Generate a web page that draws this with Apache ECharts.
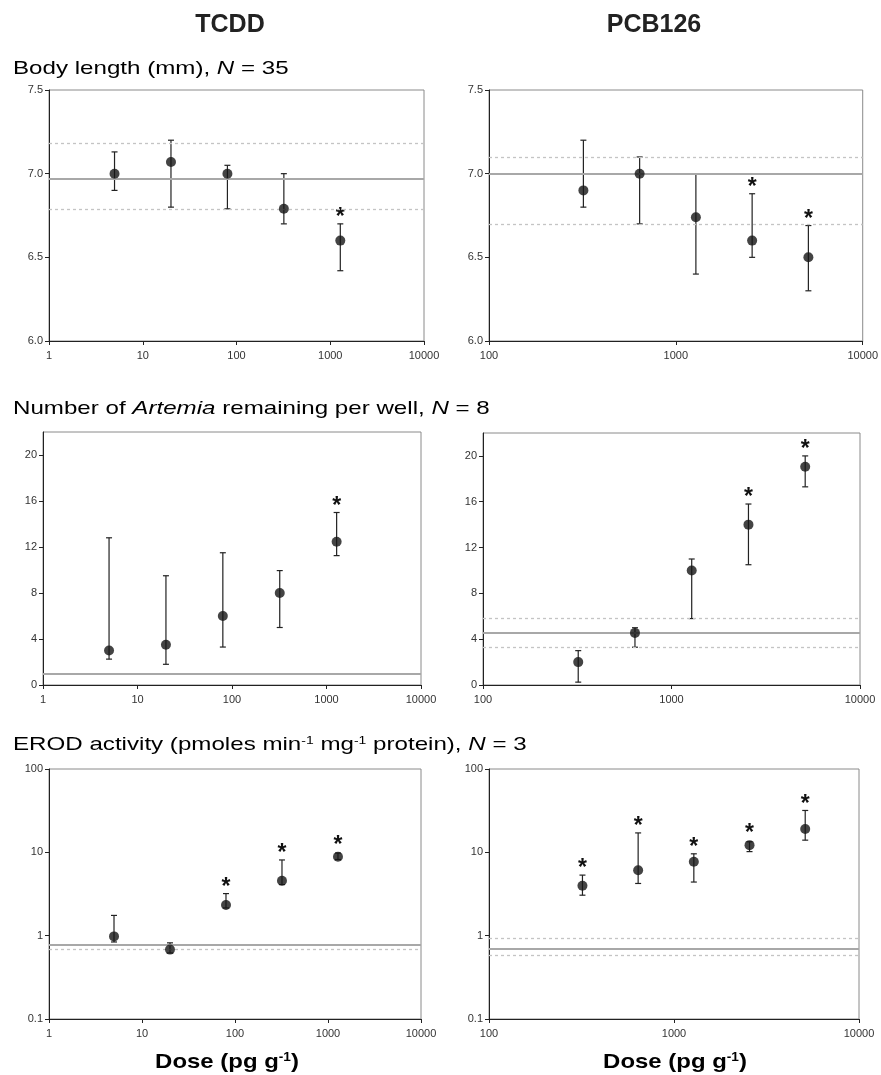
<!DOCTYPE html>
<html>
<head>
<meta charset="utf-8">
<title>TCDD / PCB126 dose response</title>
<script src="https://cdn.jsdelivr.net/npm/echarts@6/dist/echarts.min.js"></script>
<style>
  html, body { margin: 0; padding: 0; background: #fff; }
  #chart { width: 881px; height: 1075px; }
</style>
</head>
<body>
<div id="chart"></div>
<script>
// doses, pg/g
var tcddDose = [5, 20, 80, 320, 1280];
var pcbDose = [320, 640, 1280, 2560, 5120];

// body length (mm)
var tcddLenMean = [7.0, 7.07, 7.0, 6.79, 6.6];
var tcddLenLow = [6.9, 6.8, 6.79, 6.7, 6.42];
var tcddLenHigh = [7.13, 7.2, 7.05, 7.0, 6.7];
var tcddLenStar = [0, 0, 0, 0, 1];
var tcddLenRef = [6.97, 6.795, 7.18];   // control mean, lower, upper

var pcbLenMean = [6.9, 7.0, 6.74, 6.6, 6.5];
var pcbLenLow = [6.8, 6.7, 6.4, 6.5, 6.3];
var pcbLenHigh = [7.2, 7.1, 7.0, 6.88, 6.69];
var pcbLenStar = [0, 0, 0, 1, 1];
var pcbLenRef = [7.0, 6.7, 7.1];

// Artemia remaining per well
var tcddArtMean = [3.0, 3.5, 6.0, 8.0, 12.45];
var tcddArtLow = [2.25, 1.8, 3.3, 5.0, 11.25];
var tcddArtHigh = [12.8, 9.5, 11.5, 9.95, 15.0];
var tcddArtStar = [0, 0, 0, 0, 1];
var tcddArtRef = [1.0];

var pcbArtMean = [2.0, 4.55, 10.0, 14.0, 19.05];
var pcbArtLow = [0.25, 3.3, 5.8, 10.5, 17.3];
var pcbArtHigh = [3.0, 5.0, 11.0, 15.8, 20.0];
var pcbArtStar = [0, 0, 0, 1, 1];
var pcbArtRef = [4.55, 3.3, 5.85];

// EROD activity
var tcddErodMean = [0.98, 0.68, 2.33, 4.57, 8.87];
var tcddErodLow = [0.84, 0.62, 2.15, 4.1, 8.2];
var tcddErodHigh = [1.75, 0.82, 3.2, 8.1, 9.8];
var tcddErodStar = [0, 0, 1, 1, 1];
var tcddErodRef = [0.78, 0.69];

var pcbErodMean = [3.97, 6.1, 7.7, 12.2, 19.1];
var pcbErodLow = [3.06, 4.23, 4.4, 10.2, 14.0];
var pcbErodHigh = [5.33, 17.1, 9.6, 13.4, 31.8];
var pcbErodStar = [1, 1, 1, 1, 1];
var pcbErodRef = [0.69, 0.59, 0.94];

var yTicksCount = [0, 4, 8, 12, 16, 20];

var panels = [
  {dose: tcddDose, mean: tcddLenMean, low: tcddLenLow, high: tcddLenHigh, star: tcddLenStar, ref: tcddLenRef},
  {dose: pcbDose, mean: pcbLenMean, low: pcbLenLow, high: pcbLenHigh, star: pcbLenStar, ref: pcbLenRef},
  {dose: tcddDose, mean: tcddArtMean, low: tcddArtLow, high: tcddArtHigh, star: tcddArtStar, ref: tcddArtRef},
  {dose: pcbDose, mean: pcbArtMean, low: pcbArtLow, high: pcbArtHigh, star: pcbArtStar, ref: pcbArtRef},
  {dose: tcddDose, mean: tcddErodMean, low: tcddErodLow, high: tcddErodHigh, star: tcddErodStar, ref: tcddErodRef},
  {dose: pcbDose, mean: pcbErodMean, low: pcbErodLow, high: pcbErodHigh, star: pcbErodStar, ref: pcbErodRef}
];

var grids = [
  {left: 49, top: 90, width: 375, height: 251},
  {left: 489, top: 90, width: 374, height: 251},
  {left: 43, top: 432, width: 378, height: 253},
  {left: 483, top: 433, width: 377, height: 252},
  {left: 49, top: 769, width: 372, height: 250},
  {left: 489, top: 769, width: 370, height: 250}
];

var FONT = '"Liberation Sans", Arial, sans-serif';
var labelStyle = {color: '#333', fontSize: 11, fontFamily: FONT};

function logLabel(v) {
  return v >= 1 ? String(Math.round(v)) : String(+v.toPrecision(2));
}

function renderBar(params, api) {
  var x = api.value(0);
  var lo = api.coord([x, api.value(1)]);
  var hi = api.coord([x, api.value(2)]);
  var mid = api.coord([x, api.value(3)]);
  var st = {stroke: '#222', lineWidth: 1.2};
  var kids = [
    {type: 'line', shape: {x1: lo[0], y1: lo[1], x2: hi[0], y2: hi[1]}, style: st},
    {type: 'line', shape: {x1: lo[0] - 3, y1: lo[1], x2: lo[0] + 3, y2: lo[1]}, style: st},
    {type: 'line', shape: {x1: hi[0] - 3, y1: hi[1], x2: hi[0] + 3, y2: hi[1]}, style: st}
  ];
  if (api.value(4)) {
    // asterisk glyph sits high in its box, so anchor a bit lower
    var top = Math.min(hi[1], mid[1] - 5) - 6;
    kids.push({
      type: 'text', x: hi[0], y: top,
      style: {text: '*', fill: '#111', font: 'bold 23px ' + FONT, align: 'center', verticalAlign: 'middle'}
    });
  }
  return {type: 'group', children: kids};
}

var xAxes = [], yAxes = [], series = [];
panels.forEach(function (p, i) {
  var left = i % 2 === 0;
  xAxes.push({
    gridIndex: i, type: 'log', logBase: 10,
    min: left ? 1 : 100, max: 10000,
    axisLine: {lineStyle: {color: '#222'}},
    axisTick: {length: 4, lineStyle: {color: '#222'}},
    axisLabel: Object.assign({margin: 9, formatter: logLabel}, labelStyle),
    splitLine: {show: false}
  });
  var y = {
    gridIndex: i,
    axisLine: {show: true, lineStyle: {color: '#222'}},
    axisTick: {show: true, length: 4, lineStyle: {color: '#222'}},
    axisLabel: Object.assign({margin: 6}, labelStyle),
    splitLine: {show: false}
  };
  if (i < 2) {
    y.type = 'value'; y.min = 6; y.max = 7.5; y.interval = 0.5;
    y.axisLabel.formatter = function (v) { return v.toFixed(1); };
  } else if (i < 4) {
    y.type = 'value'; y.min = 0; y.max = 22; y.interval = 4;
    y.axisLabel.customValues = yTicksCount;
    y.axisTick.customValues = yTicksCount;
  } else {
    y.type = 'log'; y.logBase = 10; y.min = 0.1; y.max = 100;
    y.axisLabel.formatter = logLabel;
  }
  yAxes.push(y);

  var pts = [], bars = [];
  p.dose.forEach(function (d, k) {
    pts.push([d, p.mean[k]]);
    bars.push([d, p.low[k], p.high[k], p.mean[k], p.star[k]]);
  });

  series.push({
    type: 'scatter', xAxisIndex: i, yAxisIndex: i,
    data: pts, symbol: 'circle', symbolSize: 10,
    itemStyle: {color: '#151515'}, z: 5,
    markLine: {
      silent: true, symbol: 'none', label: {show: false},
      data: p.ref.map(function (v, k) {
        return {
          yAxis: v,
          lineStyle: k === 0
            ? {color: '#a8a8a8', width: 2, type: 'solid'}
            : {color: '#c4c4c4', width: 1.3, type: [3, 3]}
        };
      })
    }
  });
  series.push({
    type: 'custom', xAxisIndex: i, yAxisIndex: i,
    data: bars, renderItem: renderBar, clip: false, z: 4,
    encode: {x: 0, y: [1, 2, 3]}
  });
});

var rowFont = {a: {fontSize: 19, fontFamily: FONT, color: '#222'},
               i: {fontSize: 19, fontFamily: FONT, fontStyle: 'italic', color: '#222'},
               s: {fontSize: 11, fontFamily: FONT, color: '#222', verticalAlign: 'top'}};
var doseFont = {a: {fontSize: 21, fontFamily: FONT, fontWeight: 'bold', color: '#222'},
                s: {fontSize: 12, fontFamily: FONT, fontWeight: 'bold', color: '#222', verticalAlign: 'top'}};

function rowTitle(y, text) {
  return {type: 'text', x: 13, y: y, scaleX: 1.27,
    style: {text: text, rich: rowFont, verticalAlign: 'middle', align: 'left'}};
}
function doseTitle(x) {
  return {type: 'text', x: x, y: 1062, scaleX: 1.14,
    style: {text: '{a|Dose (pg g}{s|-1}{a|)}', rich: doseFont, verticalAlign: 'middle', align: 'center'}};
}

var option = {
  backgroundColor: '#fff',
  animation: false,
  grid: grids.map(function (g) {
    return Object.assign({show: true, borderColor: '#8a8a8a', borderWidth: 1, containLabel: false}, g);
  }),
  xAxis: xAxes,
  yAxis: yAxes,
  series: series,
  graphic: [
    {type: 'text', x: 230, y: 25, style: {text: 'TCDD', font: 'bold 25px ' + FONT, fill: '#222', align: 'center', verticalAlign: 'middle'}},
    {type: 'text', x: 654, y: 25, style: {text: 'PCB126', font: 'bold 25px ' + FONT, fill: '#222', align: 'center', verticalAlign: 'middle'}},
    rowTitle(69, '{a|Body length (mm), }{i|N}{a| = 35}'),
    rowTitle(409, '{a|Number of }{i|Artemia}{a| remaining per well, }{i|N}{a| = 8}'),
    rowTitle(745, '{a|EROD activity (pmoles min}{s|-1}{a| mg}{s|-1}{a| protein), }{i|N}{a| = 3}'),
    doseTitle(227),
    doseTitle(675)
  ]
};

var chart = echarts.init(document.getElementById('chart'));
chart.setOption(option);
</script>
</body>
</html>
